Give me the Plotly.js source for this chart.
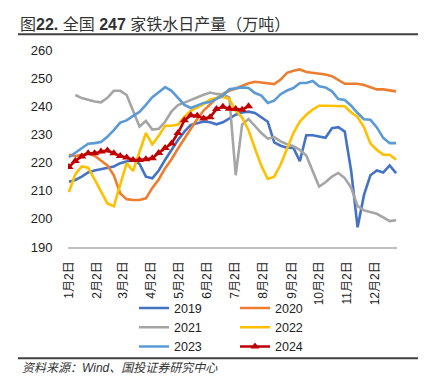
<!DOCTYPE html>
<html>
<head>
<meta charset="utf-8">
<script src="https://cdn.plot.ly/plotly-3.0.1.min.js"></script>
<style>html,body{margin:0;padding:0;background:#fff;}#chart{width:426px;height:384px;}</style>
</head>
<body>
<div id="chart"></div>
<script>
// weekly dates (shared x categories, shown on a common year)
var weeks = ["2021-01-02","2021-01-09","2021-01-16","2021-01-23","2021-01-30","2021-02-06","2021-02-13","2021-02-20","2021-02-27","2021-03-06","2021-03-13","2021-03-20","2021-03-27","2021-04-03","2021-04-10","2021-04-17","2021-04-24","2021-05-01","2021-05-08","2021-05-15","2021-05-22","2021-05-29","2021-06-05","2021-06-12","2021-06-19","2021-06-26","2021-07-03","2021-07-10","2021-07-17","2021-07-24","2021-07-31","2021-08-07","2021-08-14","2021-08-21","2021-08-28","2021-09-04","2021-09-11","2021-09-18","2021-09-25","2021-10-02","2021-10-09","2021-10-16","2021-10-23","2021-10-30","2021-11-06","2021-11-13","2021-11-20","2021-11-27","2021-12-04","2021-12-11","2021-12-18","2021-12-25"];

var tickDates = ["2021-01-02","2021-02-02","2021-03-02","2021-04-02","2021-05-02","2021-06-02","2021-07-02","2021-08-02","2021-09-02","2021-10-02","2021-11-02","2021-12-02"];
var tickLabels = ["1月2日","2月2日","3月2日","4月2日","5月2日","6月2日","7月2日","8月2日","9月2日","10月2日","11月2日","12月2日"];

var seriesNames = ["2019","2020","2021","2022","2023","2024"];

var y2019 = [213.2,213.8,215,216.5,217.2,217.7,218,218.6,219.8,220.5,221,219.5,215,214.4,217.2,221,224.6,228,231,233.4,234,234.6,234.3,233.6,234.3,235.6,237,237.8,238.1,237.6,236,234.5,227.2,226,225.3,225.2,220.5,229.7,229.7,229.2,228.8,232.2,232.6,231,217,197,208.5,215.5,217.2,216.5,219,216.2];
var y2020 = [222.8,222.3,222.8,223.3,222.4,220.8,219,215.5,209,207,206.7,206.7,207.3,211,214,218,221.2,225,228.5,232.2,235.5,238.5,240.7,242.8,244.4,245.5,246.3,247.2,248.2,248.7,248.5,248.1,247.9,249.5,251.9,252.6,253.1,252.2,251.9,251.6,251.3,250.7,249.3,248,248,248,247.6,246.8,246,246,245.6,245.3];
var y2021 = [null,244,242.9,242.3,241.7,241.4,243,245.5,245.5,244,238.5,232.8,234.8,231.7,232,234.5,238.2,240.4,241.3,242.3,243.2,244.1,244.9,244.4,244.2,243.2,215.5,233.5,235.5,233,230.5,228.5,229,227.5,226.5,225.8,224.5,222.5,217,211.5,213,215,216.3,214.5,211,204.5,203,202.3,201.8,200.5,199.2,199.5];
var y2022 = [209.5,215.9,218.6,218.2,214,209.5,205.5,204.5,212,219.8,217,223.5,230.5,226.5,229.5,233.1,233.1,233.5,236.3,238.4,239.5,240.8,242.4,242.8,243.4,242.6,238.5,236,231.5,225,218.8,214.2,215,219.3,225,230.5,234.6,237,238.8,240.2,240.2,240.1,240.1,240,237.8,236.2,232.5,226.8,224.5,222.8,222.8,221];
var y2023 = [221.9,223.5,225.2,226.7,226.9,227.3,229.2,231.5,234.2,235,236.6,238,240.5,243.2,245,246.8,245.5,242.8,240.5,239.4,240.4,241.2,241.5,242.7,243.8,246.1,246.5,246.7,246.5,244.7,243.8,241.2,242,244.3,245.6,246.5,248.3,248.3,249,247.1,246.7,245.3,242.6,242.2,240.2,237.6,235.4,235.2,232.5,228.8,226.9,226.9];
var y2024 = [218.4,220.6,222.2,223.3,223.3,223.9,224.3,223.3,222.3,221.8,220.9,220.9,221.2,221.5,223.4,225.2,226.8,230.5,235,236.8,236.6,235.7,236.1,239,239.8,239.1,239,238.8,240];

var colors = ["#4472C4","#ED7D31","#A5A5A5","#FFC000","#5B9BD5","#C00000"];
var values = [y2019,y2020,y2021,y2022,y2023,y2024];
var legendFor = ["legend","legend2","legend","legend2","legend","legend2"];

var traces = values.map(function(v,i){
  var t = {
    x: weeks.slice(0, v.length),
    y: v,
    name: seriesNames[i],
    type: "scatter",
    mode: i === 5 ? "lines+markers" : "lines",
    line: {color: colors[i], width: 2.6},
    legend: legendFor[i],
    connectgaps: false,
    hoverinfo: "x+y+name"
  };
  if (i === 5) t.marker = {symbol: "triangle-up", size: 8, color: colors[i]};
  return t;
});

var font = "'Liberation Sans', Arial, 'Noto Sans CJK SC', sans-serif";

var layout = {
  width: 426, height: 384,
  margin: {l: 68, r: 29, t: 50, b: 137},
  paper_bgcolor: "#ffffff", plot_bgcolor: "#ffffff",
  font: {family: font, color: "#222222", size: 12},
  showlegend: true,
  title: {
    text: "图<b>22.</b> 全国 <b>247</b> 家铁水日产量（万吨）",
    x: 20/426, xanchor: "left", xref: "container",
    y: 1 - 24/384, yanchor: "middle", yref: "container",
    font: {family: font, size: 16, color: "#333333"}
  },
  xaxis: {
    type: "date",
    range: ["2021-01-01", "2021-12-26"],
    tickvals: tickDates, ticktext: tickLabels,
    tickangle: -90,
    tickfont: {size: 12, color: "#222222"},
    ticks: "outside", ticklen: 8, tickcolor: "rgba(0,0,0,0)",
    showgrid: false, zeroline: false,
    showline: true, linecolor: "#BFBFBF", linewidth: 1.5,
    fixedrange: true
  },
  yaxis: {
    range: [190, 260], dtick: 10, tick0: 190,
    tickfont: {size: 13, color: "#222222"},
    ticks: "outside", ticklen: 12, tickcolor: "rgba(0,0,0,0)",
    showgrid: false, zeroline: false, showline: false,
    fixedrange: true
  },
  legend: {
    x: (134-68)/329, xanchor: "left",
    y: (246.7-293)/197, yanchor: "top",
    orientation: "v", bgcolor: "rgba(0,0,0,0)",
    font: {size: 12.5, color: "#222222"}, traceorder: "normal"
  },
  legend2: {
    x: (235-68)/329, xanchor: "left",
    y: (246.7-293)/197, yanchor: "top",
    orientation: "v", bgcolor: "rgba(0,0,0,0)",
    font: {size: 12.5, color: "#222222"}, traceorder: "normal"
  },
  shapes: [
    {type: "line", xref: "paper", yref: "paper",
     x0: (18-68)/329, x1: (418-68)/329, y0: (246.7-34)/197, y1: (246.7-34)/197,
     line: {color: "#404040", width: 2}},
    {type: "line", xref: "paper", yref: "paper",
     x0: (18-68)/329, x1: (418-68)/329, y0: (246.7-358)/197, y1: (246.7-358)/197,
     line: {color: "#404040", width: 2}}
  ],
  annotations: [
    {text: "<i>资料来源：Wind、国投证券研究中心</i>", xref: "paper", yref: "paper",
     x: (20-68)/329, xanchor: "left", y: (246.7-368)/197, yanchor: "middle",
     showarrow: false, font: {family: font, size: 12, color: "#333333"}}
  ]
};

Plotly.newPlot("chart", traces, layout, {displayModeBar: false, staticPlot: true});
</script>
</body>
</html>
